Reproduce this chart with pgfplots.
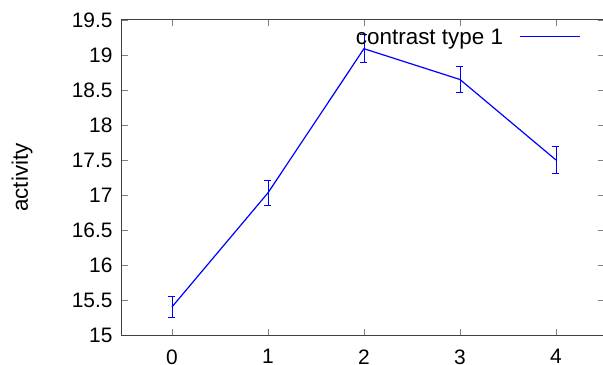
\documentclass[border=0pt]{standalone}
\usepackage{fontspec}
\setmainfont{Liberation Sans}
\usepackage{pgfplots}
\pgfplotsset{compat=1.18}
\usetikzlibrary{calc}
\begin{document}
\begin{tikzpicture}
\begin{axis}[
  scale only axis,
  width=482bp, height=315bp,
  xmin=-0.52, xmax=4.5,
  ymin=15, ymax=19.5,
  xtick={0,1,2,3,4},
  xticklabels={0,1,2,3,4},
  ytick={15,15.5,16,16.5,17,17.5,18,18.5,19,19.5},
  yticklabels={15,15.5,16,16.5,17,17.5,18,18.5,19,19.5},
  tick align=inside,
  major tick length=6bp,
  tick style={black!50, line width=0.8bp},
  axis line style={black!75, line width=1bp},
  ticklabel style={font=\fontsize{21}{24}\selectfont},
  xticklabel style={yshift=-11bp},
  yticklabel style={xshift=-6bp},
  ylabel={activity},
  ylabel style={font=\fontsize{22.5}{26}\selectfont, at={(rel axis cs:0,0.5)}, anchor=center, rotate=0, yshift=100bp},
  legend plot pos=right,
  legend style={draw=none, fill=none, at={(rel axis cs:1,1)}, anchor=north east, xshift=-23bp, yshift=-9bp, inner sep=0pt, font=\fontsize{22.5}{26}\selectfont, nodes={inner sep=0pt}, column sep=16.5bp},
  legend image code/.code={\draw[draw=blue, line width=1.3bp] (0bp,1bp) -- (60bp,1bp);},
]
\addplot[blue, line width=1.2bp, mark=none,
  error bars/.cd, y dir=both, y explicit,
  error bar style={blue, line width=0.8bp},
  error mark options={blue, rotate=90, mark size=3.5bp, line width=0.8bp}]
coordinates {
  (0,15.40) +- (0,0.15)
  (1,17.03) +- (0,0.18)
  (2,19.09) +- (0,0.20)
  (3,18.65) +- (0,0.19)
  (4,17.50) +- (0,0.19)
};
\addlegendentry{contrast type 1}
\end{axis}
\pgfresetboundingbox
\path[use as bounding box] ($(current axis.south west)+(-122bp,-30bp)$) rectangle ($(current axis.north west)+(481bp,20bp)$);
\end{tikzpicture}
\end{document}
